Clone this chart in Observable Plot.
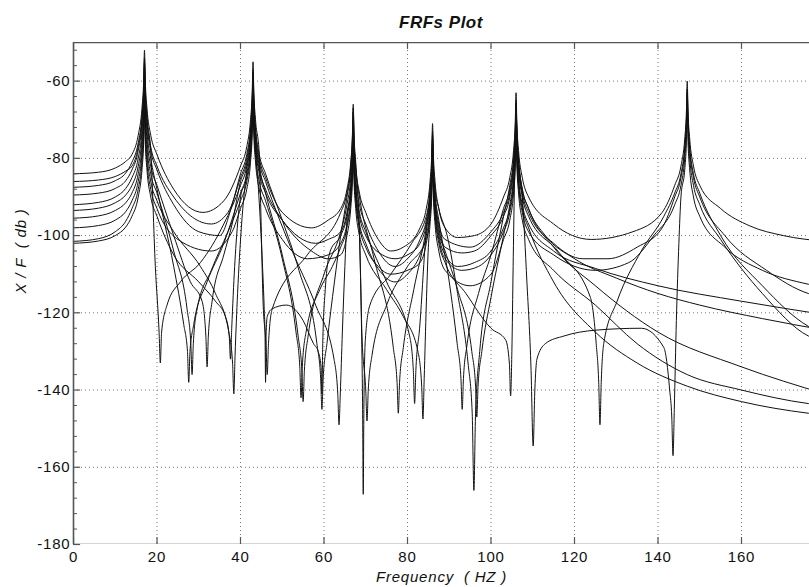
<!DOCTYPE html>
<html><head><meta charset="utf-8">
<script src="https://cdn.jsdelivr.net/npm/d3@7"></script>
<script src="https://cdn.jsdelivr.net/npm/@observablehq/plot@0.6"></script>
<style>
html,body{margin:0;padding:0;background:#fff;overflow:hidden;}
#title{width:809px;height:32px;box-sizing:border-box;padding:14px 0 0 73px;text-align:center;
  font:italic bold 17px "Liberation Sans",Arial,sans-serif;line-height:17px;color:#111;letter-spacing:0.5px;}
</style></head>
<body>
<div id="title">FRFs Plot</div>
<div id="chart"></div>
<script>
// Frequency (Hz) / X/F (dB) pairs, one array per FRF curve
const frf1 = [[0,-84],[6,-83.6],[10,-82.5],[12.5,-80.8],[14,-79],[15.5,-74],[16.4,-67],[16.8,-60],[17,-52],[17.2,-60],[17.6,-67],[18.5,-74],[20,-79],[24,-88],[31,-94],[36,-91],[40,-82],[41.5,-77],[42.4,-70],[42.8,-63],[43,-55],[43.2,-63],[43.6,-70],[44.5,-79],[44.9,-95],[45.4,-117],[46.1,-128],[46.4,-136],[46.7,-128],[47.6,-119],[56,-105],[64,-94],[65.5,-89],[66.4,-82],[66.8,-75],[67,-67],[67.2,-75],[67.6,-82],[68.5,-89],[70,-94],[73,-101],[76,-104],[79,-103],[83,-98],[84.5,-93],[85.4,-86],[85.8,-79],[86,-71],[86.2,-79],[86.6,-86],[87.5,-93],[89,-98],[92,-100.5],[96,-100],[100,-97],[103,-90],[104.5,-85],[105.4,-78],[105.8,-71],[106,-63],[106.2,-71],[106.6,-78],[107.5,-85],[109,-90],[115,-97],[124,-101],[134,-99],[141,-94],[144,-87],[145.5,-82],[146.4,-75],[146.8,-68],[147,-60],[147.2,-68],[147.6,-75],[148.5,-82],[150,-87],[155,-93],[162,-97.5],[170,-100],[180,-101.5]];
const frf2 = [[0,-86],[6,-85.6],[10,-84.7],[12.5,-83.3],[14,-82],[15.5,-77],[16.4,-70],[16.8,-63],[17,-55],[17.2,-63],[17.6,-70],[18.5,-77],[20,-82],[24,-90],[33,-97],[37,-94],[40,-85],[41.5,-80],[42.4,-73],[42.8,-66],[43,-58],[43.2,-66],[43.6,-73],[44.5,-80],[46,-85],[50,-94],[57,-98],[61,-96],[64,-93],[65.5,-88],[66.4,-81],[66.8,-74],[67,-66],[67.2,-74],[67.6,-81],[68.5,-100],[69,-125],[69.25,-145],[69.4,-167],[69.55,-145],[69.9,-127],[71,-118],[76,-110],[81,-102],[84.5,-95],[85.4,-88],[85.8,-81],[86,-73],[86.2,-81],[86.6,-88],[87.5,-93],[89.5,-100],[92,-115],[94.5,-133],[95.5,-146],[95.9,-166],[96.3,-146],[97.3,-130],[100,-112],[103,-95],[104.5,-87],[105.4,-80],[105.8,-73],[106,-65],[106.2,-73],[106.6,-80],[107.5,-90],[108.6,-112],[109.6,-135],[110.1,-154.5],[110.5,-140],[111,-132],[113,-128],[117.5,-126],[125,-124.5],[136,-124],[141.4,-129],[142.8,-140],[143.3,-147],[143.6,-157],[143.9,-145],[144.4,-122],[145,-102],[145.5,-90],[146.4,-83],[146.8,-76],[147,-68],[147.2,-76],[147.6,-83],[148.5,-90],[150,-95],[156,-103],[165,-109],[176,-112.6],[180,-113.5]];
const frf3 = [[0,-87.5],[6,-87],[10,-85.8],[12.5,-83.8],[14,-81],[15.5,-76],[16.4,-69],[16.8,-62],[17,-54],[17.2,-62],[17.6,-69],[18.5,-78],[19.6,-108],[20.5,-125],[20.8,-133],[21.1,-125],[22.4,-118],[25.6,-112],[30.4,-107],[36,-97],[40,-87],[41.5,-82],[42.4,-75],[42.8,-68],[43,-60],[43.2,-68],[43.6,-75],[44.5,-82],[46,-89],[50,-105],[53.8,-126],[54.7,-135],[55,-143],[55.3,-135],[56.2,-126],[60,-110],[64,-99],[65.5,-92],[66.4,-85],[66.8,-78],[67,-70],[67.2,-78],[67.6,-85],[68.5,-92],[70,-97],[73,-104],[77,-108],[80,-106],[83,-101],[84.5,-96],[85.4,-89],[85.8,-82],[86,-74],[86.2,-82],[86.6,-89],[87.5,-96],[90,-112],[91.9,-128],[92.8,-137],[93.1,-145],[93.4,-137],[94.3,-128],[97,-115],[100,-105],[103,-93],[104.5,-88],[105.4,-81],[105.8,-74],[106,-66],[106.2,-74],[106.6,-81],[107.5,-88],[109,-93],[113,-100],[120,-106],[130,-111],[140,-115],[150,-118],[165,-121.5],[180,-124.5]];
const frf4 = [[0,-89.5],[6,-89],[10,-87.8],[12.5,-85.8],[14,-83],[15.5,-78],[16.4,-71],[16.8,-64],[17,-56],[17.2,-64],[17.6,-71],[18.5,-78],[20,-83],[24,-92],[30,-99],[35,-100],[38,-92],[40,-84],[41.5,-79],[42.4,-72],[42.8,-65],[43,-57],[43.2,-65],[43.6,-72],[44.5,-79],[46,-84],[50,-96],[54,-109],[58.3,-128],[59.2,-137],[59.5,-145],[59.8,-137],[60.7,-128],[62.5,-112],[64,-100],[65.5,-90],[66.4,-83],[66.8,-76],[67,-68],[67.2,-76],[67.6,-83],[68.5,-90],[72,-106],[76.6,-129],[77.5,-138],[77.8,-146],[78.1,-138],[79,-129],[81.5,-114],[84.5,-98],[85.4,-91],[85.8,-84],[86,-76],[86.2,-84],[86.6,-91],[87.5,-98],[89,-103],[93,-104.5],[96,-104],[100,-100],[103,-95],[104.5,-90],[105.4,-83],[105.8,-76],[106,-68],[106.2,-76],[106.6,-83],[107.5,-90],[109,-95],[116,-104],[123.8,-116],[125.2,-128],[125.8,-138],[126.1,-149],[126.4,-138],[127,-128],[130.2,-117],[136,-104],[141.4,-95],[144,-89],[145.5,-84],[146.4,-77],[146.8,-70],[147,-62],[147.2,-70],[147.6,-77],[148.5,-84],[150,-89],[155,-100],[165,-113],[176,-123.5],[180,-125.5]];
const frf5 = [[0,-92],[6,-91.4],[10,-90],[12.5,-87.8],[14,-85],[15.5,-80],[16.4,-73],[16.8,-66],[17,-58],[17.2,-66],[17.6,-73],[18.5,-80],[20,-88],[24,-108],[26.4,-123],[27.3,-130],[27.6,-138],[27.9,-130],[28.8,-123],[32,-112],[36,-102],[40,-89],[41.5,-84],[42.4,-77],[42.8,-70],[43,-62],[43.2,-70],[43.6,-77],[44.5,-84],[46,-89],[50,-96],[58,-102],[61,-101],[64,-99],[65.5,-94],[66.4,-87],[66.8,-80],[67,-72],[67.2,-80],[67.6,-87],[68.5,-94],[70,-99],[75,-112],[80.5,-126],[81.4,-135],[81.7,-143.5],[82,-135],[82.9,-124],[84.5,-99],[85.4,-92],[85.8,-85],[86,-77],[86.2,-85],[86.6,-92],[87.5,-99],[89,-104],[92,-114],[95.4,-130],[96.3,-139],[96.6,-147],[96.9,-139],[97.8,-130],[100,-116],[103,-100],[104.5,-92],[105.4,-85],[105.8,-78],[106,-70],[106.2,-78],[106.6,-85],[107.5,-92],[109,-97],[115,-104],[125,-108.5],[140,-113],[160,-117],[180,-120.5]];
const frf6 = [[0,-93.5],[6,-92.9],[10,-91.5],[12.5,-89.5],[14,-87],[15.5,-82],[16.4,-75],[16.8,-68],[17,-60],[17.2,-68],[17.6,-75],[18.5,-82],[20,-87],[24,-100],[28,-112],[30.8,-117],[31.7,-126],[32,-134],[32.3,-126],[33.2,-117],[36,-105],[38,-97],[40,-86],[41.5,-81],[42.4,-74],[42.8,-67],[43,-59],[43.2,-67],[43.6,-74],[44.5,-81],[46,-86],[52,-103],[58,-118],[62.4,-132],[63.3,-141],[63.6,-149],[63.9,-141],[64.4,-125],[65,-108],[65.5,-96],[66.4,-89],[66.8,-82],[67,-74],[67.2,-82],[67.6,-89],[68.5,-100],[69.1,-126],[70,-140],[70.3,-148],[70.6,-140],[71.5,-131],[75,-118],[80,-108],[84.5,-101],[85.4,-94],[85.8,-87],[86,-79],[86.2,-87],[86.6,-94],[87.5,-101],[89,-106],[93,-109],[97,-108],[100,-105],[103,-99],[104.5,-94],[105.4,-87],[105.8,-80],[106,-72],[106.2,-80],[106.6,-87],[107.5,-94],[109,-99],[115,-105],[125,-109],[133,-107],[139,-100],[144,-92],[145.5,-87],[146.4,-80],[146.8,-73],[147,-65],[147.2,-73],[147.6,-80],[148.5,-87],[150,-92],[155,-101],[165,-115],[176,-126],[180,-127.5]];
const frf7 = [[0,-95.5],[6,-94.9],[10,-93.5],[12.5,-91.5],[14,-89],[15.5,-84],[16.4,-77],[16.8,-70],[17,-62],[17.2,-70],[17.6,-77],[18.5,-84],[20,-89],[24,-104],[27.2,-119],[28.1,-128],[28.4,-136],[28.7,-128],[29.6,-119],[33,-109],[37,-99],[40,-91],[41.5,-86],[42.4,-79],[42.8,-72],[43,-64],[43.2,-72],[43.6,-79],[44.5,-86],[46,-91],[50,-106],[53.3,-125],[54.2,-134],[54.5,-142],[54.8,-134],[55.7,-125],[59,-114],[62,-108],[64,-103],[65.5,-98],[66.4,-91],[66.8,-84],[67,-76],[67.2,-84],[67.6,-91],[68.5,-98],[70,-103],[73,-108],[76,-110],[80,-109],[83,-107],[84.5,-102],[85.4,-95],[85.8,-88],[86,-80],[86.2,-88],[86.6,-95],[87.5,-102],[89,-107],[94,-115],[100,-124],[103.5,-127],[104.4,-133],[104.7,-141.5],[105,-130],[105.3,-108],[105.6,-88],[105.8,-80],[106,-66],[106.2,-74],[106.6,-81],[107.5,-88],[109,-93],[115,-103],[125,-113],[140,-125],[160,-134],[180,-141]];
const frf8 = [[0,-98],[6,-97.4],[10,-96],[12.5,-93.8],[14,-91],[15.5,-86],[16.4,-79],[16.8,-72],[17,-64],[17.2,-72],[17.6,-79],[18.5,-86],[20,-91],[24,-99],[30.4,-108],[34,-115],[37.2,-125],[38.1,-133],[38.4,-141],[38.7,-131],[39.3,-115],[40.2,-98],[41.5,-83],[42.4,-76],[42.8,-69],[43,-61],[43.2,-69],[43.6,-76],[44.5,-83],[46,-88],[50,-96],[57,-104],[61,-106],[64,-105],[65.5,-100],[66.4,-93],[66.8,-86],[67,-78],[67.2,-86],[67.6,-93],[68.5,-100],[70,-105],[75,-114],[79,-121],[82.5,-130],[83.4,-139],[83.7,-147.5],[84,-137],[84.5,-118],[85,-103],[85.4,-97],[85.8,-90],[86,-82],[86.2,-90],[86.6,-97],[87.5,-104],[89,-109],[95,-113],[100,-110],[103,-101],[104.5,-96],[105.4,-89],[105.8,-82],[106,-74],[106.2,-82],[106.6,-89],[107.5,-96],[109,-101],[115,-109],[125,-118],[135,-128],[147,-136],[160,-140],[176,-143.5],[180,-144]];
const frf9 = [[0,-101.5],[6,-100.8],[10,-99],[12.5,-96.3],[14,-93],[15.5,-88],[16.4,-81],[16.8,-74],[17,-66],[17.2,-74],[17.6,-81],[18.5,-88],[20,-93],[25,-101],[33,-104],[38,-99],[40,-93],[41.5,-88],[42.4,-81],[42.8,-74],[43,-66],[43.2,-74],[43.6,-81],[44.5,-88],[46,-93],[50,-101],[56,-106],[61,-105],[64,-102],[65.5,-97],[66.4,-90],[66.8,-83],[67,-75],[67.2,-83],[67.6,-90],[68.5,-97],[70,-102],[74,-110],[77,-112],[80,-110],[83,-105],[84.5,-100],[85.4,-93],[85.8,-86],[86,-78],[86.2,-86],[86.6,-93],[87.5,-100],[89,-105],[92,-108],[96,-107],[100,-104],[103,-98],[104.5,-93],[105.4,-86],[105.8,-79],[106,-71],[106.2,-79],[106.6,-86],[107.5,-93],[109,-98],[115,-112],[125,-125],[135,-133],[147,-139],[160,-143],[176,-146],[180,-146.5]];
const frf10 = [[0,-102],[6,-101.4],[10,-100],[12.5,-97.8],[14,-95],[15.5,-90],[16.4,-83],[16.8,-76],[17,-68],[17.2,-76],[17.6,-83],[18.5,-90],[20,-95],[24,-105],[30,-112],[34,-117],[36.4,-121],[37.3,-126],[37.6,-132],[37.9,-124],[38.6,-108],[39.3,-97],[40,-90],[41.5,-85],[42.4,-78],[42.8,-71],[43,-63],[43.2,-71],[43.6,-78],[44.3,-88],[45.1,-104],[45.65,-118],[45.88,-126],[46,-138],[46.12,-126],[46.4,-121],[47.5,-119],[51,-118],[55,-122],[57.5,-128],[58.6,-130],[59.3,-134],[59.5,-141],[59.7,-128],[60.3,-114],[61.5,-104],[64,-100],[65.5,-95],[66.4,-88],[66.8,-81],[67,-73],[67.2,-81],[67.6,-88],[68.5,-95],[70,-100],[74,-105],[77,-106],[80,-105],[83,-102],[84.5,-97],[85.4,-90],[85.8,-83],[86,-75],[86.2,-83],[86.6,-90],[87.5,-97],[89,-101],[95,-103],[100,-99],[103,-94],[104.5,-89],[105.4,-82],[105.8,-75],[106,-67],[106.2,-75],[106.6,-82],[107.5,-89],[109,-94],[115,-102],[122,-106],[128,-106],[135,-103],[141,-98],[144,-90],[145.5,-85],[146.4,-78],[146.8,-71],[147,-63],[147.2,-71],[147.6,-78],[148.5,-85],[150,-90],[156,-100],[166,-109],[176,-115],[180,-116]];

const xTicks = [0, 20, 40, 60, 80, 100, 120, 140, 160, 180];
const xTickLabels = ["0", "20", "40", "60", "80", "100", "120", "140", "160"];
const yTicks = [-180, -160, -140, -120, -100, -80, -60];
const yTickLabels = ["-180", "-160", "-140", "-120", "-100", "-80", "-60"];
const yMinor = [-176,-172,-168,-164,-156,-152,-148,-144,-136,-132,-128,-124,-116,-112,-108,-104,-96,-92,-88,-84,-76,-72,-68,-64,-56,-52];
const xLabel = "Frequency  ( HZ )";
const yLabel = "X / F  ( db )";

const curves = [frf1, frf2, frf3, frf4, frf5, frf6, frf7, frf8, frf9, frf10];
const rows = curves.flatMap((c, i) => c.map(([f, db]) => ({curve: i, f, db})));
const xTickRows = xTickLabels.map((label, i) => ({v: xTicks[i], label}));
const yTickRows = yTicks.map((v, i) => ({v, label: yTickLabels[i]}));

const font = "Liberation Sans, Arial, sans-serif";
const frameColor = "#555";
const gridColor = "#777";

const chart = Plot.plot({
  width: 809,
  height: 555,
  marginLeft: 73,
  marginRight: 0,
  marginTop: 10,
  marginBottom: 43,
  style: {fontFamily: font, letterSpacing: "0.8px", color: "#111", background: "#fff"},
  x: {domain: [0, 180], range: [73, 824.5], axis: null},
  y: {domain: [-180, -50], axis: null},
  marks: [
    Plot.ruleX(xTicks.slice(1), {stroke: gridColor, strokeWidth: 1, strokeDasharray: "1,3", clip: true}),
    Plot.ruleY(yTicks.slice(1), {x1: 0, x2: 180, stroke: gridColor, strokeWidth: 1, strokeDasharray: "1,3", clip: true}),
    Plot.line(rows, {x: "f", y: "db", z: "curve", stroke: "#111", strokeWidth: 1, curve: "monotone-x", clip: true}),
    Plot.ruleX([0], {stroke: frameColor, strokeWidth: 1.6}),
    Plot.ruleY([-180, -50], {x1: 0, x2: 180, stroke: frameColor, strokeWidth: 1.6, clip: true}),
    Plot.ruleY(yTicks, {x1: 0, x2: 1.7, stroke: frameColor, strokeWidth: 1.2}),
    Plot.ruleY(yMinor, {x1: 0, x2: 0.95, stroke: frameColor, strokeWidth: 1}),
    Plot.ruleX(xTicks, {y1: -180, y2: -178.2, stroke: frameColor, strokeWidth: 1.2, clip: true}),
    Plot.ruleX(xTicks, {y1: -50, y2: -51.8, stroke: frameColor, strokeWidth: 1.2, clip: true}),
    Plot.text(xTickRows, {x: "v", text: "label", frameAnchor: "bottom", dy: 13, lineAnchor: "middle", fontSize: 15, fill: "#111"}),
    Plot.text(yTickRows, {y: "v", text: "label", frameAnchor: "left", dx: -3, textAnchor: "end", lineAnchor: "middle", fontSize: 15, fill: "#111"}),
    Plot.text([xLabel], {frameAnchor: "bottom", dy: 33, lineAnchor: "middle", fontSize: 15, fontStyle: "italic", fill: "#111"}),
    Plot.text([yLabel], {frameAnchor: "left", dx: -52, rotate: -90, lineAnchor: "middle", fontSize: 15, fontStyle: "italic", fill: "#111"})
  ]
});
document.getElementById("chart").append(chart);
</script>
</body></html>
